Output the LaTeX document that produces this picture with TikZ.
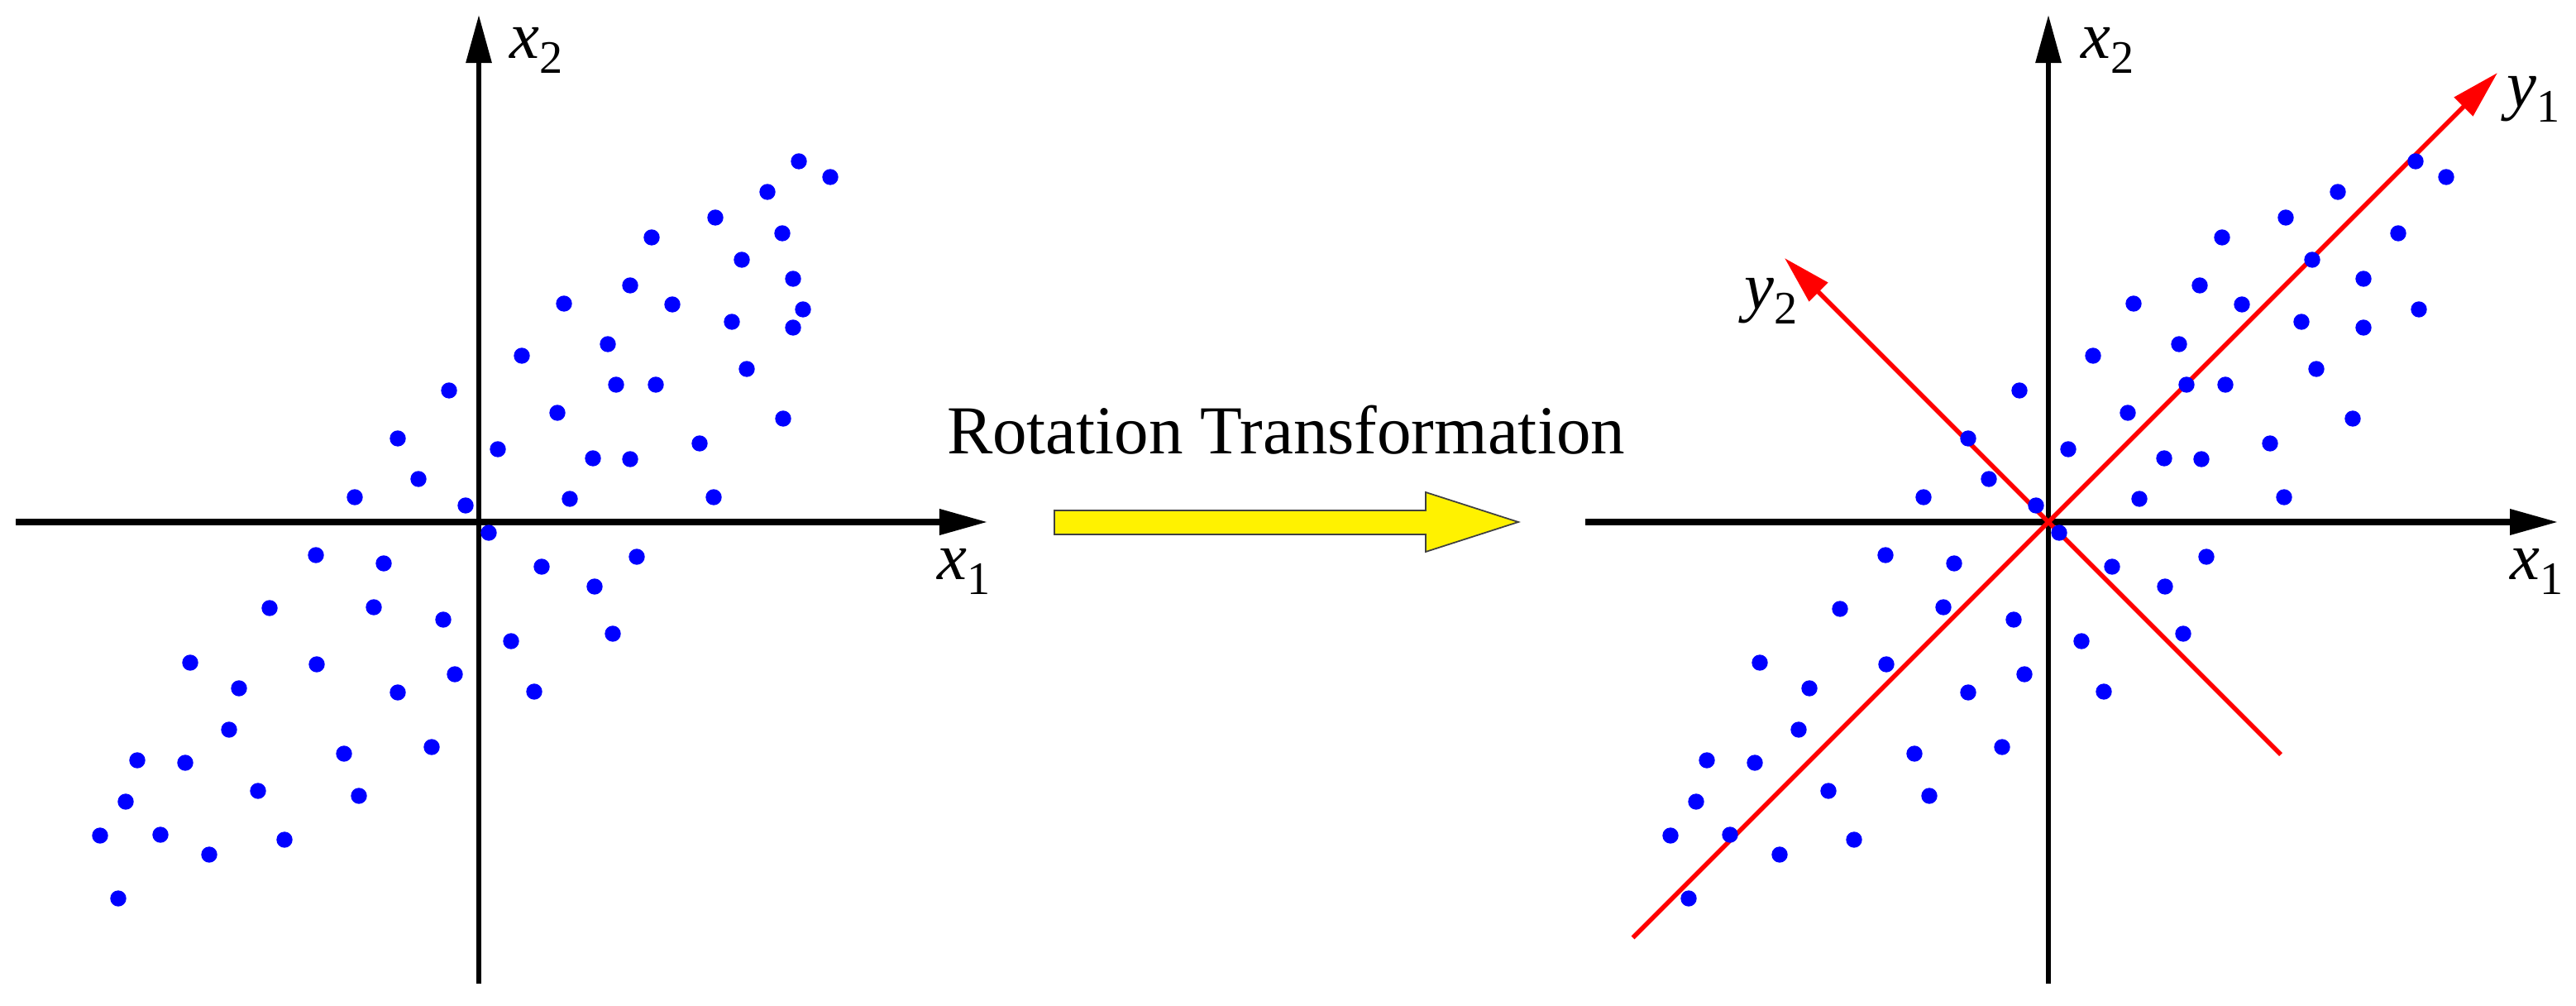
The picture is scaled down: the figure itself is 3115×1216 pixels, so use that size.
\documentclass[tikz,border=0pt]{standalone}
\usepackage{fontspec}
\setmainfont{Liberation Serif}
\usetikzlibrary{arrows.meta}
\newcommand{\axlab}[2]{{\itshape #1}\raisebox{-5.1pt}{\fontsize{16}{16}\selectfont #2}}
\begin{document}
\begin{tikzpicture}[x=0.01cm, y=-0.01cm,
  tipblk/.style={-{Triangle[length=0.58cm,width=0.30cm]}},
  haxis/.style={tipblk, line width=0.07cm},
  vaxis/.style={tipblk, line width=0.06cm},
  redaxis/.style={red, line width=0.055cm, -{Triangle[length=0.58cm,width=0.31cm]}},
  lab/.style={anchor=base west, inner sep=0pt, font=\fontsize{23}{28}\selectfont},
  bigarrow/.style={fill=yellow, draw=black!75, line width=0.5pt, line join=miter},
]
\useasboundingbox (0,0) rectangle (3115,1216);

% ---------- left plot ----------
\coordinate (LO) at (579,631);
\coordinate (LxS) at (19,631);
\coordinate (LxE) at (1194,631);
\coordinate (LyS) at (579,1189);
\coordinate (LyE) at (579,18);
\draw[haxis] (LxS) -- (LxE);
\draw[vaxis] (LyS) -- (LyE);
\node[lab] (Lx2) at (616,71) {\axlab{x}{2}};
\node[lab] (Lx1) at (1133,701) {\axlab{x}{1}};
\foreach \x/\y in {966/195, 1004/214, 928/232, 865/263, 946/282, 788/287, 897/314, 959/337, 762/345, 682/367, 813/368, 971/374, 885/389, 959/396, 735/416, 631/430, 903/446, 745/465, 793/465, 543/472, 674/499, 947/506, 481/530, 602/543, 846/536, 717/554, 762/555, 506/579, 429/601, 689/603, 863/601, 563/611,
591/644, 382/671, 464/681, 655/685, 770/673, 719/709, 326/735, 452/734, 536/749, 618/775, 741/766, 230/801, 383/803, 550/815, 289/832, 481/837, 646/836, 277/882, 166/919, 224/922, 416/911, 522/903, 312/956, 434/962, 152/969, 121/1010, 194/1009, 344/1015, 253/1033, 143/1086}
  \fill[blue] (\x,\y) circle[radius=0.097cm];

% ---------- middle ----------
\node[anchor=base, inner sep=0pt, font=\fontsize{23.6}{28}\selectfont] (title) at (1555,549) {Rotation Transformation};
\coordinate (A1) at (1275,617);
\coordinate (A2) at (1724,617);
\coordinate (A3) at (1724,595);
\coordinate (A4) at (1836,631);
\coordinate (A5) at (1724,667);
\coordinate (A6) at (1724,646);
\coordinate (A7) at (1275,646);
\draw[bigarrow] (A1) -- (A2) -- (A3) -- (A4) -- (A5) -- (A6) -- (A7) -- cycle;

% ---------- right plot ----------
\coordinate (RO) at (2477,631);
\coordinate (RxS) at (1917,631);
\coordinate (RxE) at (3093,631);
\coordinate (RyS) at (2477,1189);
\coordinate (RyE) at (2477,18);
\draw[haxis] (RxS) -- (RxE);
\draw[vaxis] (RyS) -- (RyE);
\coordinate (y1S) at (1974.5,1133.5);
\coordinate (y1E) at (3020,88);
\coordinate (y2S) at (2758,912);
\coordinate (y2E) at (2158,312);
\draw[redaxis] (y1S) -- (RO) -- (y1E);
\draw[redaxis] (y2S) -- (RO) -- (y2E);
\node[lab] (Rx2) at (2516,71) {\axlab{x}{2}};
\node[lab] (Rx1) at (3035,701) {\axlab{x}{1}};
\node[lab] (Ry1) at (3031,130) {\axlab{y}{1}};
\node[lab] (Ry2) at (2109,374) {\axlab{y}{2}};
\foreach \x/\y in {2921/195, 2958/214, 2827/232, 2764/263, 2900/282, 2687/287, 2796/314, 2858/337, 2660/345, 2580/367, 2711/368, 2925/374, 2783/389, 2858/396, 2635/416, 2531/430, 2801/446, 2644/465, 2691/465, 2442/472, 2573/499, 2845/506, 2380/530, 2501/543, 2745/536, 2617/554, 2662/555, 2405/579, 2326/601, 2587/603, 2762/601, 2462/611,
2490/644, 2280/671, 2363/681, 2554/685, 2668/673, 2618/709, 2225/736, 2350/734, 2435/749, 2517/775, 2640/766, 2128/801, 2281/803, 2448/815, 2188/832, 2380/837, 2544/836, 2175/882, 2064/919, 2122/922, 2315/911, 2421/903, 2211/956, 2333/962, 2051/969, 2020/1010, 2092/1009, 2242/1015, 2152/1033, 2042/1086}
  \fill[blue] (\x,\y) circle[radius=0.097cm];
\end{tikzpicture}
\end{document}
